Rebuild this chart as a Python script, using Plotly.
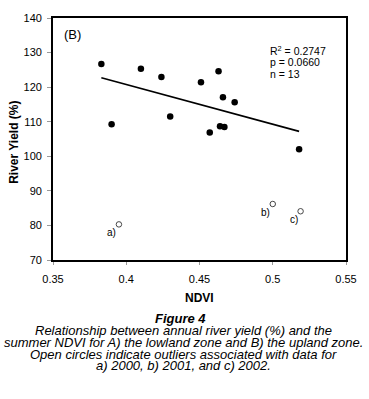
import plotly.graph_objects as go

# Data
ndvi = [0.383, 0.390, 0.410, 0.424, 0.430, 0.451, 0.457, 0.463, 0.464, 0.467, 0.466, 0.474, 0.518]
river_yield = [126.7, 109.3, 125.3, 122.9, 111.5, 121.4, 106.9, 124.6, 108.7, 108.5, 117.1, 115.6, 102.0]

outlier_ndvi = [0.395, 0.500, 0.519]
outlier_yield = [80.3, 86.2, 84.1]
outlier_labels = ["a)", "b)", "c)"]

trend_ndvi = [0.383, 0.518]
trend_yield = [122.7, 107.2]

x_ticks = [0.35, 0.4, 0.45, 0.5, 0.55]
x_tick_text = ["0.35", "0.4", "0.45", "0.5", "0.55"]
y_ticks = [70, 80, 90, 100, 110, 120, 130, 140]

stats_text = ["R<sup>2</sup> = 0.2747", "p = 0.0660", "n = 13"]
caption_title = "Figure 4"
caption_lines = [
    "Relationship between annual river yield (%) and the",
    "summer NDVI for A) the lowland zone and B) the upland zone.",
    "Open circles indicate outliers associated with data for",
    "a) 2000, b) 2001, and c) 2002.",
]

W, H = 369, 399
L, R, T, B = 53.3, 347.7, 16, 260


def px(x):
    return (x - L) / (R - L)


def py(y):
    return (B - y) / (B - T)


FONT = "Liberation Sans, Arial, sans-serif"

fig = go.Figure()
fig.add_trace(go.Scatter(x=trend_ndvi, y=trend_yield, mode="lines",
                         line=dict(color="black", width=1.6), hoverinfo="skip"))
fig.add_trace(go.Scatter(x=ndvi, y=river_yield, mode="markers",
                         marker=dict(color="black", size=6.5)))
fig.add_trace(go.Scatter(x=outlier_ndvi, y=outlier_yield, mode="markers",
                         marker=dict(color="white", size=5.5,
                                     line=dict(color="#333", width=0.9))))

annotations = []
for xv, yv, lab in zip(outlier_ndvi, outlier_yield, outlier_labels):
    annotations.append(dict(x=xv, y=yv, xref="x", yref="y", text=lab, showarrow=False,
                            xanchor="right", yanchor="top", xshift=-1, yshift=-1,
                            font=dict(family=FONT, size=10, color="black")))

annotations.append(dict(x=px(62), y=py(33), xref="paper", yref="paper", text="(B)",
                        showarrow=False, xanchor="left", yanchor="middle",
                        font=dict(family=FONT, size=13, color="black")))

for i, t in enumerate(stats_text):
    annotations.append(dict(x=px(269), y=py(49 + 11.7 * i), xref="paper", yref="paper", text=t,
                            showarrow=False, xanchor="left", yanchor="middle",
                            font=dict(family=FONT, size=10.5, color="black")))

annotations.append(dict(x=px(181), y=py(318.5), xref="paper", yref="paper",
                        text="<b><i>" + caption_title + "</i></b>", showarrow=False,
                        xanchor="center", yanchor="middle",
                        font=dict(family=FONT, size=13, color="black")))
for i, t in enumerate(caption_lines):
    annotations.append(dict(x=px(184), y=py(331.5 + 11.7 * i), xref="paper", yref="paper",
                            text="<i>" + t + "</i>", showarrow=False,
                            xanchor="center", yanchor="middle",
                            font=dict(family=FONT, size=13, color="black")))

annotations.append(dict(x=px(14), y=py(141), xref="paper", yref="paper",
                        text="<b>River Yield (%)</b>", showarrow=False, textangle=-90,
                        xanchor="center", yanchor="middle",
                        font=dict(family=FONT, size=12, color="black")))
annotations.append(dict(x=px(201), y=py(298), xref="paper", yref="paper",
                        text="<b>NDVI</b>", showarrow=False,
                        xanchor="center", yanchor="middle",
                        font=dict(family=FONT, size=12, color="black")))

fig.update_layout(
    width=W, height=H,
    margin=dict(l=L, r=W - R, t=T, b=H - B, pad=0),
    paper_bgcolor="white", plot_bgcolor="white",
    showlegend=False,
    font=dict(family=FONT, size=11, color="black"),
    annotations=annotations,
    xaxis=dict(range=[0.35, 0.55], tickvals=x_ticks, ticktext=x_tick_text,
               showgrid=False, zeroline=False, showline=True, linecolor="black",
               linewidth=1.8, mirror=True, ticks="outside", ticklen=3, tickcolor="#999",
               ticklabeloverflow="allow", ticklabelstandoff=5,
               tickfont=dict(family=FONT, size=11, color="black")),
    yaxis=dict(range=[70, 140], tickvals=y_ticks,
               showgrid=False, zeroline=False, showline=True, linecolor="black",
               linewidth=1.8, mirror=True, ticks="outside", ticklen=4, tickcolor="#999",
               ticklabeloverflow="allow", ticklabelstandoff=3,
               tickfont=dict(family=FONT, size=11, color="black")),
)

fig.write_html("out.html", config={"displayModeBar": False},
               post_script="document.body.style.margin='0';document.body.style.padding='0';")
